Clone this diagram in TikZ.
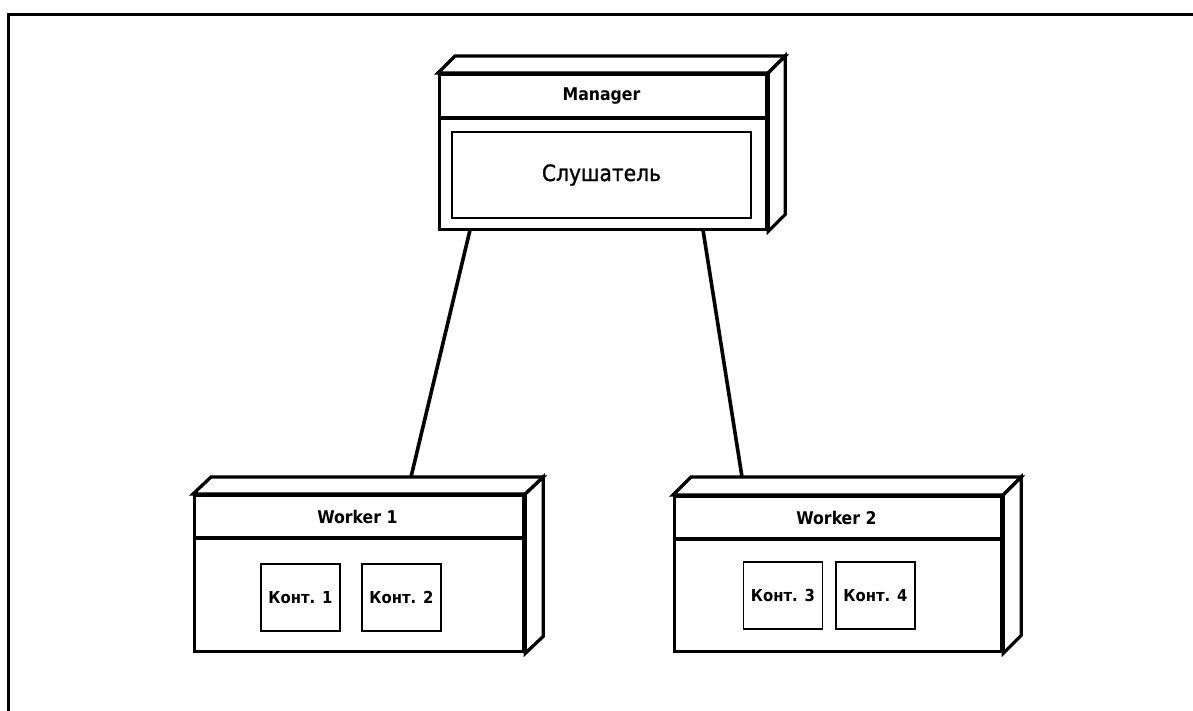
\documentclass[tikz,border=0pt]{standalone}
\usepackage{fontspec}
\setmainfont{DejaVu Sans}
\newfontfamily\cond{DejaVu Sans Condensed}
\newfontfamily\condmed[FakeBold=1.2]{DejaVu Sans Condensed}
\begin{document}
\begin{tikzpicture}[x=1pt,y=-1pt,
  heavy/.style={draw=black, line width=3.3pt, line join=miter},
  front/.style={heavy, fill=white, inner sep=0pt},
  face/.style={heavy, fill=white},
  inbox/.style={draw=black, line width=1.6pt, fill=white, inner sep=0pt},
  ttl/.style={font=\cond\fontsize{17.5}{20}\selectfont\bfseries},
  kont/.style={inbox, minimum width=79pt, minimum height=67pt, font=\cond\fontsize{16.5}{19}\selectfont\bfseries},
  link/.style={draw=black, line width=3.6pt}
]
\useasboundingbox (0,0) rectangle (1193,711);
\draw[line width=3pt] (1193,15) -- (8,15) -- (8,711);

% Manager
\node[front, minimum width=327pt, minimum height=155pt, anchor=north west] (mgr) at (438,73) {};
\draw[face] (mgr.north west) -- ++(17,-17) -- ([shift={(17pt,17pt)}]mgr.north east) -- (mgr.north east) -- cycle;
\draw[face] (mgr.north east) -- ([shift={(17pt,17pt)}]mgr.north east) -- ([shift={(17pt,17pt)}]mgr.south east) -- (mgr.south east) -- cycle;
\draw[heavy] ([yshift=-45pt]mgr.north west) -- ([yshift=-45pt]mgr.north east);
\node[ttl] (mgrT) at (601.5,96) {Manager};
\node[inbox, minimum width=299pt, minimum height=86pt, font=\condmed\fontsize{22.5}{26}\selectfont] (lis) at (601.5,175) {Слушатель};

% Worker 1
\node[front, minimum width=329pt, minimum height=156pt, anchor=north west] (w1) at (193,494) {};
\draw[face] (w1.north west) -- ([shift={(18pt,17pt)}]w1.north west) -- ([shift={(18pt,17pt)}]w1.north east) -- (w1.north east) -- cycle;
\draw[face] (w1.north east) -- ([shift={(18pt,17pt)}]w1.north east) -- ([shift={(18pt,17pt)}]w1.south east) -- (w1.south east) -- cycle;
\draw[heavy] ([yshift=-44pt]w1.north west) -- ([yshift=-44pt]w1.north east);
\node[ttl] (w1T) at (357.5,517) {Worker 1};
\node[kont] (k1) at (300.5,597.5) {Конт. 1};
\node[kont] (k2) at (401.5,597.5) {Конт. 2};

% Worker 2
\node[front, minimum width=327pt, minimum height=155pt, anchor=north west] (w2) at (673,495) {};
\draw[face] (w2.north west) -- ([shift={(18pt,18pt)}]w2.north west) -- ([shift={(18pt,18pt)}]w2.north east) -- (w2.north east) -- cycle;
\draw[face] (w2.north east) -- ([shift={(18pt,18pt)}]w2.north east) -- ([shift={(18pt,18pt)}]w2.south east) -- (w2.south east) -- cycle;
\draw[heavy] ([yshift=-44pt]w2.north west) -- ([yshift=-44pt]w2.north east);
\node[ttl] (w2T) at (836.5,518) {Worker 2};
\node[kont] (k3) at (783,595.5) {Конт. 3};
\node[kont] (k4) at (875.5,595.5) {Конт. 4};

% connectors
\coordinate (m1) at (470,230);
\coordinate (m2) at (703,230);
\coordinate (t1) at (411,477);
\coordinate (t2) at (742,477);
\draw[link] (m1) -- (t1);
\draw[link] (m2) -- (t2);
\end{tikzpicture}
\end{document}
